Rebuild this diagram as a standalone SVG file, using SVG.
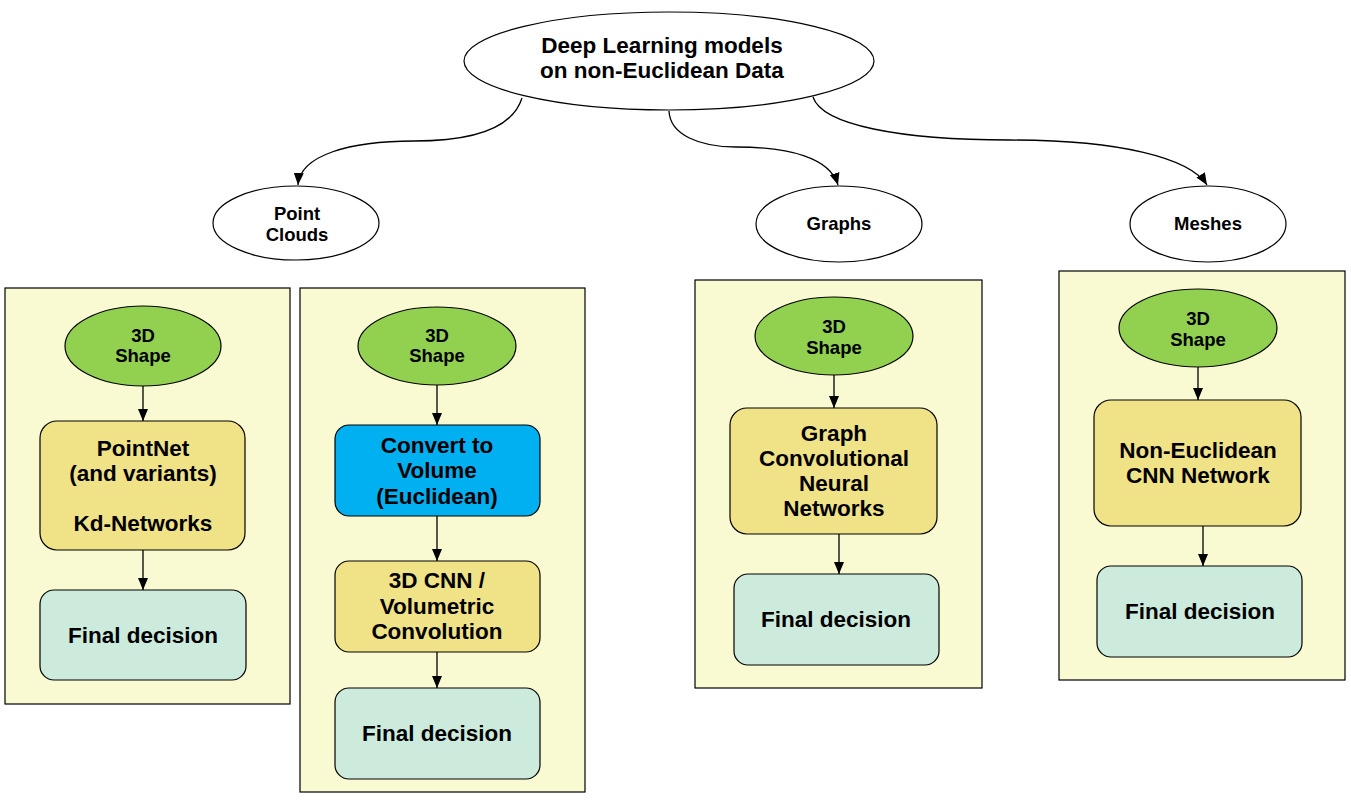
<svg xmlns="http://www.w3.org/2000/svg" width="1351" height="802" viewBox="0 0 1351 802">
<defs>
<marker id="ah" markerUnits="userSpaceOnUse" markerWidth="12" markerHeight="12" viewBox="0 0 12 12" refX="12" refY="6" orient="auto">
<path d="M0,1 L12,6 L0,11 Z" fill="#000"/>
</marker>
<style>
.cont{fill:#FAFAD2;stroke:#000;stroke-width:1.2}
.wht{fill:#fff;stroke:#000;stroke-width:1.2}
.grn{fill:#92D050;stroke:#000;stroke-width:1.2}
.ylw{fill:#F0E286;stroke:#000;stroke-width:1.2}
.blu{fill:#00B0F0;stroke:#000;stroke-width:1.2}
.fin{fill:#CCEBDC;stroke:#000;stroke-width:1.2}
text{font-family:"Liberation Sans",Arial,sans-serif;font-weight:bold;fill:#000;text-anchor:middle}
.big{font-size:22.5px}
.sm{font-size:18.5px}
.edge{fill:none;stroke:#000;stroke-width:1.3;marker-end:url(#ah)}
</style>
</defs>
<rect width="1351" height="802" fill="#fff"/>

<g id="containers">
<rect class="cont" x="5" y="288" width="285" height="416"/>
<rect class="cont" x="300" y="288" width="285" height="504"/>
<rect class="cont" x="695" y="280" width="287" height="408"/>
<rect class="cont" x="1059" y="271" width="286" height="409"/>
</g>

<g id="connectors">
<path class="edge" d="M522,98 C512,130 470,141 414,141 C350,141 300,155 298,185"/>
<path class="edge" d="M669,111 C670,135 700,147 736,147 C790,147 830,158 838,185"/>
<path class="edge" d="M813,97 C822,125 900,140 1010,140 C1120,140 1190,158 1207,185"/>
<path class="edge" d="M143,386 L143,421"/>
<path class="edge" d="M143,550 L143,590"/>
<path class="edge" d="M437,385 L437,425"/>
<path class="edge" d="M437,516 L437,561"/>
<path class="edge" d="M437,652 L437,688"/>
<path class="edge" d="M834,375 L834,408"/>
<path class="edge" d="M839,534 L839,574"/>
<path class="edge" d="M1198,367 L1198,400"/>
<path class="edge" d="M1203,526 L1203,566"/>
</g>

<g id="root">
<ellipse class="wht" cx="669" cy="61" rx="205" ry="49"/>
<text class="big" x="662" y="53">Deep Learning models</text>
<text class="big" x="662" y="78">on non-Euclidean Data</text>
</g>

<g id="pointclouds">
<ellipse class="wht" cx="296" cy="223" rx="83" ry="37"/>
<text class="sm" x="297" y="219.5">Point</text>
<text class="sm" x="297" y="240.5">Clouds</text>
</g>
<g id="graphs">
<ellipse class="wht" cx="839" cy="224" rx="83" ry="38"/>
<text class="sm" x="839" y="229.5">Graphs</text>
</g>
<g id="meshes">
<ellipse class="wht" cx="1208" cy="224" rx="78" ry="38"/>
<text class="sm" x="1208" y="229.5">Meshes</text>
</g>

<g id="shape1">
<ellipse class="grn" cx="143" cy="346" rx="78" ry="40"/>
<text class="sm" x="143" y="341.5">3D</text>
<text class="sm" x="143" y="361.5">Shape</text>
</g>
<g id="pointnet">
<rect class="ylw" x="40" y="421" width="205" height="129" rx="17"/>
<text class="big" x="143" y="456">PointNet</text>
<text class="big" x="143" y="481">(and variants)</text>
<text class="big" x="143" y="531">Kd-Networks</text>
</g>
<g id="final1">
<rect class="fin" x="40" y="590" width="206" height="90" rx="14"/>
<text class="big" x="143" y="643">Final decision</text>
</g>

<g id="shape2">
<ellipse class="grn" cx="437" cy="346" rx="79" ry="39"/>
<text class="sm" x="437" y="341.5">3D</text>
<text class="sm" x="437" y="361.5">Shape</text>
</g>
<g id="convert">
<rect class="blu" x="335" y="425" width="205" height="91" rx="14"/>
<text class="big" x="437" y="453">Convert to</text>
<text class="big" x="437" y="478">Volume</text>
<text class="big" x="437" y="504">(Euclidean)</text>
</g>
<g id="cnn3d">
<rect class="ylw" x="335" y="561" width="205" height="91" rx="14"/>
<text class="big" x="437" y="588">3D CNN /</text>
<text class="big" x="437" y="614">Volumetric</text>
<text class="big" x="437" y="639">Convolution</text>
</g>
<g id="final2">
<rect class="fin" x="335" y="688" width="205" height="91" rx="14"/>
<text class="big" x="437" y="741">Final decision</text>
</g>

<g id="shape3">
<ellipse class="grn" cx="834" cy="336" rx="79" ry="39"/>
<text class="sm" x="834" y="332.5">3D</text>
<text class="sm" x="834" y="353.5">Shape</text>
</g>
<g id="gcn">
<rect class="ylw" x="730" y="408" width="207" height="126" rx="17"/>
<text class="big" x="834" y="441">Graph</text>
<text class="big" x="834" y="466">Convolutional</text>
<text class="big" x="834" y="491">Neural</text>
<text class="big" x="834" y="516">Networks</text>
</g>
<g id="final3">
<rect class="fin" x="734" y="574" width="205" height="91" rx="14"/>
<text class="big" x="836" y="627">Final decision</text>
</g>

<g id="shape4">
<ellipse class="grn" cx="1198" cy="328" rx="79" ry="39"/>
<text class="sm" x="1198" y="324.5">3D</text>
<text class="sm" x="1198" y="345.5">Shape</text>
</g>
<g id="noneuclid">
<rect class="ylw" x="1094" y="400" width="207" height="126" rx="17"/>
<text class="big" x="1198" y="458">Non-Euclidean</text>
<text class="big" x="1198" y="483">CNN Network</text>
</g>
<g id="final4">
<rect class="fin" x="1097" y="566" width="205" height="91" rx="14"/>
<text class="big" x="1200" y="619">Final decision</text>
</g>
</svg>
